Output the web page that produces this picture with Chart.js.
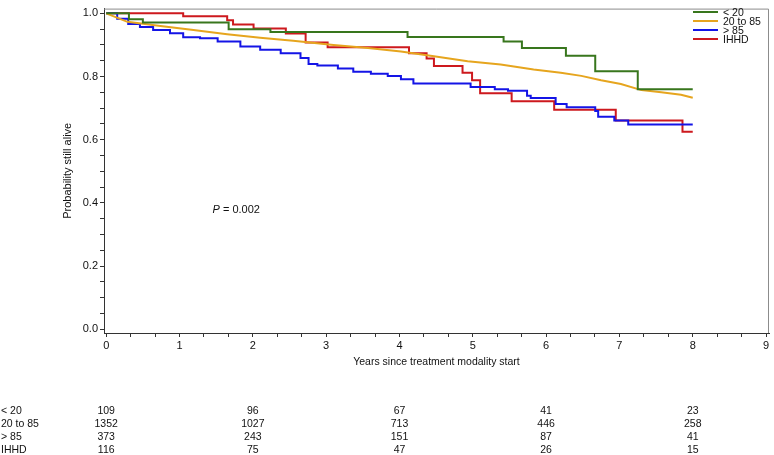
<!DOCTYPE html>
<html>
<head>
<meta charset="utf-8">
<script src="https://cdn.jsdelivr.net/npm/chart.js@4"></script>
<style>
  html, body { margin: 0; padding: 0; background: #fff; }
  #wrap { width: 774px; height: 455px; }
</style>
</head>
<body>
<div id="wrap"><canvas id="km"></canvas></div>
<script>
// survival curves (time in years, probability)
const groupNames = ['< 20', '20 to 85', '> 85', 'IHHD'];

const greenTimes = [0, 0.31, 0.5, 1.67, 2.24, 4.11, 5.42, 5.67, 6.27, 6.67, 7.25, 8.0];
const greenSurv  = [1.0, 0.981, 0.971, 0.950, 0.941, 0.925, 0.911, 0.890, 0.866, 0.817, 0.760, 0.760];

const orangeTimes = [0, 0.29, 0.74, 1.19, 1.65, 2.10, 2.55, 3.10, 3.57, 4.02, 4.47, 4.93, 5.38, 5.83, 6.20, 6.48, 6.75, 7.02, 7.30, 7.57, 7.84, 8.0];
const orangeSurv  = [1.0, 0.973, 0.960, 0.947, 0.934, 0.923, 0.913, 0.900, 0.890, 0.879, 0.864, 0.848, 0.838, 0.822, 0.812, 0.802, 0.788, 0.776, 0.757, 0.750, 0.742, 0.733];

const blueTimes = [0, 0.15, 0.30, 0.46, 0.64, 0.87, 1.05, 1.28, 1.52, 1.83, 2.10, 2.38, 2.65, 2.76, 2.88, 3.16, 3.37, 3.61, 3.84, 4.02, 4.19, 4.97, 5.30, 5.48, 5.74, 5.79, 6.13, 6.28, 6.67, 6.71, 6.93, 7.12, 8.0];
const blueSurv  = [1.0, 0.983, 0.966, 0.957, 0.947, 0.937, 0.924, 0.921, 0.911, 0.895, 0.885, 0.874, 0.859, 0.840, 0.835, 0.825, 0.815, 0.809, 0.802, 0.791, 0.778, 0.767, 0.760, 0.755, 0.739, 0.732, 0.713, 0.703, 0.691, 0.673, 0.661, 0.648, 0.648];

const redTimes = [0, 1.05, 1.65, 1.73, 2.01, 2.45, 2.72, 3.02, 4.13, 4.37, 4.47, 4.86, 4.99, 5.10, 5.53, 6.11, 6.95, 7.86, 8.0];
const redSurv  = [1.0, 0.991, 0.978, 0.965, 0.952, 0.936, 0.908, 0.893, 0.874, 0.857, 0.833, 0.812, 0.788, 0.747, 0.722, 0.695, 0.661, 0.625, 0.625];

// numbers at risk
const atRiskTimes = [0, 2, 4, 6, 8];
const atRiskGreen  = [109, 96, 67, 41, 23];
const atRiskOrange = [1352, 1027, 713, 446, 258];
const atRiskBlue   = [373, 243, 151, 87, 41];
const atRiskRed    = [116, 75, 47, 26, 15];

const pValueText = '0.002';

const colors = ['#38761d', '#e6a51e', '#1414e6', '#cd191e'];
const FONT = 'Arial, "Liberation Sans", sans-serif';

function toPoints(xs, ys) {
    return xs.map((t, i) => ({ x: t, y: ys[i] }));
}

const curves = [
    toPoints(greenTimes, greenSurv),
    toPoints(orangeTimes, orangeSurv),
    toPoints(blueTimes, blueSurv),
    toPoints(redTimes, redSurv),
];
const atRiskRows = [atRiskGreen, atRiskOrange, atRiskBlue, atRiskRed];

// frame, legend, p value and risk table
const extras = {
    id: 'extras',
    afterDraw(chart) {
        const ctx = chart.ctx;
        const a = chart.chartArea;
        const xs = chart.scales.x, ys = chart.scales.y;
        ctx.save();

        // light frame on top / right
        ctx.strokeStyle = '#8c8c8c';
        ctx.lineWidth = 1;
        ctx.beginPath();
        ctx.moveTo(a.left, a.top + 0.5);
        ctx.lineTo(a.right - 0.5, a.top + 0.5);
        ctx.lineTo(a.right - 0.5, a.bottom);
        ctx.stroke();

        // legend
        ctx.font = '10.5px ' + FONT;
        ctx.textBaseline = 'middle';
        ctx.textAlign = 'left';
        ctx.fillStyle = '#111';
        groupNames.forEach((name, i) => {
            const y = 12 + i * 9;
            ctx.strokeStyle = colors[i];
            ctx.lineWidth = 2;
            ctx.beginPath();
            ctx.moveTo(693, y);
            ctx.lineTo(718, y);
            ctx.stroke();
            ctx.fillText(name, 723, y + 1);
        });

        // p value
        const px = xs.getPixelForValue(1.45);
        const py = ys.getPixelForValue(0.377);
        ctx.font = 'italic 11px ' + FONT;
        ctx.fillText('P', px, py);
        const pw = ctx.measureText('P').width;
        ctx.font = '11px ' + FONT;
        ctx.fillText(' = ' + pValueText, px + pw, py);

        // numbers at risk
        ctx.font = '10.5px ' + FONT;
        atRiskRows.forEach((row, r) => {
            const y = 411 + r * 13;
            ctx.textAlign = 'left';
            ctx.fillText(groupNames[r], 1, y);
            ctx.textAlign = 'center';
            row.forEach((n, i) => {
                ctx.fillText(String(n), xs.getPixelForValue(atRiskTimes[i]), y);
            });
        });
        ctx.restore();
    }
};

const ctx = document.getElementById('km').getContext('2d');

new Chart(ctx, {
    type: 'line',
    data: {
        datasets: curves.map((pts, i) => ({
            label: groupNames[i],
            data: pts,
            borderColor: colors[i],
            borderWidth: 2,
            pointRadius: 0,
            fill: false,
            stepped: i === 1 ? false : 'before',
            tension: 0,
        })),
    },
    options: {
        responsive: true,
        maintainAspectRatio: false,
        animation: false,
        layout: { padding: { left: 61, right: 5, top: 3, bottom: 87 } },
        plugins: {
            legend: { display: false },
            tooltip: { enabled: false },
        },
        scales: {
            x: {
                type: 'linear',
                min: -0.03,
                max: 9.04,
                afterBuildTicks: (axis) => {
                    const t = [];
                    for (let i = 0; i <= 27; i++) t.push({ value: i / 3 });
                    axis.ticks = t;
                },
                afterFit: (axis) => { axis.height = 35; },
                ticks: {
                    autoSkip: false,
                    maxRotation: 0,
                    padding: 2,
                    color: '#111',
                    font: { family: FONT, size: 11 },
                    callback: (v) => Math.abs(v - Math.round(v)) < 1e-6 ? String(Math.round(v)) : '',
                },
                grid: { drawOnChartArea: false, tickLength: 4, color: '#333' },
                border: { display: true, color: '#333', width: 1 },
                title: {
                    display: true,
                    text: 'Years since treatment modality start',
                    color: '#111',
                    padding: 0,
                    font: { family: FONT, size: 10.5 },
                },
            },
            y: {
                type: 'linear',
                min: -0.012,
                max: 1.015,
                afterBuildTicks: (axis) => {
                    const t = [];
                    for (let i = 0; i <= 20; i++) t.push({ value: i * 0.05 });
                    axis.ticks = t;
                },
                afterFit: (axis) => { axis.width = 43; },
                ticks: {
                    autoSkip: false,
                    padding: 2,
                    color: '#111',
                    font: { family: FONT, size: 11 },
                    callback: (v) => {
                        const k = Math.round(v * 100);
                        return k % 20 === 0 ? (k / 100).toFixed(1) : '';
                    },
                },
                grid: { drawOnChartArea: false, tickLength: 4, color: '#333' },
                border: { display: true, color: '#333', width: 1 },
                title: {
                    display: true,
                    text: 'Probability still alive',
                    color: '#111',
                    padding: 0,
                    font: { family: FONT, size: 11 },
                },
            },
        },
    },
    plugins: [extras],
});
</script>
</body>
</html>
